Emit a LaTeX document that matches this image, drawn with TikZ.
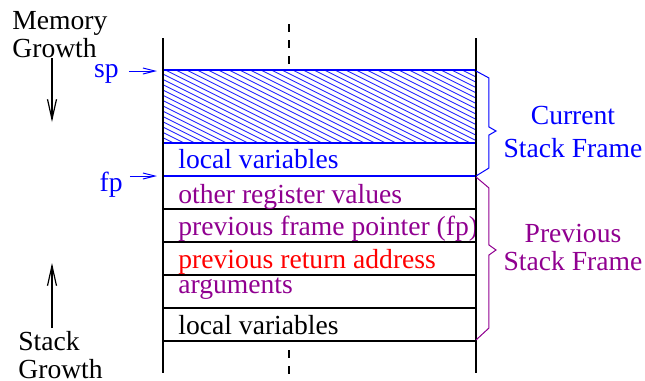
\documentclass[tikz,border=0pt]{standalone}
\usepackage{fontspec}
\setmainfont{Liberation Serif}
\usepackage{xcolor}
\definecolor{framepurple}{RGB}{144,0,144}
\usetikzlibrary{arrows.meta}

\begin{document}
\begin{tikzpicture}[x=0.5pt, y=-0.5pt, font=\fontsize{13.8}{14}\selectfont,
    every node/.style={inner sep=0pt},
    wall/.style={line width=0.6pt},
    rowline/.style={line width=0.6pt},
    hatchline/.style={blue!85, line width=0.45pt},
    ptr/.style={-{Straight Barb[length=6pt,width=3pt]}, blue, line width=0.5pt},
    growarrow/.style={-{Straight Barb[length=10pt,width=4.5pt]}, line width=0.6pt},
    brace/.style={line width=0.5pt, line join=miter},
    rowtext/.style={anchor=base west}]

  \useasboundingbox (0,0) rectangle (645,381);

  % Growth labels and arrows
  \node[anchor=base west, align=left] (memgrow) at (12,57) {Memory\\Growth};
  \coordinate (mdtop) at (52,58);
  \coordinate (mdbot) at (52,122);
  \draw[growarrow] (mdtop) -- (mdbot);

  \node[anchor=base west, align=left] (stkgrow) at (18,378.5) {Stack\\Growth};
  \coordinate (sutop) at (52,263);
  \coordinate (subot) at (52,328);
  \draw[growarrow] (subot) -- (sutop);

  % Center dashed line
  \draw[dash pattern=on 4pt off 4pt, line width=0.6pt] (289,24) -- (289,70);
  \draw[dash pattern=on 4pt off 4pt, line width=0.6pt] (289,350) -- (289,381);

  % Current frame (blue)
  \begin{scope}
    \clip (163,70) rectangle (476,143);
    \foreach \x in {17,27.6,...,480}
      \draw[hatchline] (\x,70) -- ++(146,73);
  \end{scope}
  \draw[blue, line width=0.6pt] (163,70) rectangle (476,176);
  \draw[blue, line width=0.6pt] (163,143) -- (476,143);
  \node[rowtext, blue] (lv1) at (178,168) {local variables};

  % Previous frame rows
  \foreach \y in {209,242,275,308,341}
    \draw[rowline] (163,\y) -- (476,\y);
  \node[rowtext, framepurple] (regs) at (178,203) {other register values};
  \node[rowtext, framepurple] (pfp) at (178,235) {previous frame pointer (fp)};
  \node[rowtext, red] (pra) at (178,268) {previous return address};
  \node[rowtext, framepurple] (args) at (178,293) {arguments};
  \node[rowtext] (lv2) at (178,334) {local variables};

  % Stack walls
  \draw[wall] (163,38) -- (163,373);
  \draw[wall] (476,38) -- (476,373);

  % Pointers
  \node[anchor=base east, blue] (sp) at (119,77) {sp};
  \node[anchor=base east, blue] (fp) at (123,191) {fp};
  \coordinate (sphead) at (157,71);
  \coordinate (fphead) at (157,176);
  \draw[ptr] (sp.east |- sphead) ++(10,0) -- (sphead);
  \draw[ptr] (fp.east |- fphead) ++(7,0) -- (fphead);

  % Braces
  \draw[brace, blue] (476,71) -- (489,78) -- (489,127) -- (496,131)
    -- (489,135) -- (489,168) -- (476,176);
  \draw[brace, framepurple] (476,177) -- (489,188) -- (489,245) -- (496,250)
    -- (489,255) -- (489,328) -- (476,340);

  \node[anchor=base, align=center, blue, font=\fontsize{13.8}{16.5}\selectfont]
    (curframe) at (573,157) {Current\\Stack Frame};
  \node[anchor=base, align=center, framepurple]
    (prevframe) at (573,270) {Previous\\Stack Frame};

\end{tikzpicture}
\end{document}
